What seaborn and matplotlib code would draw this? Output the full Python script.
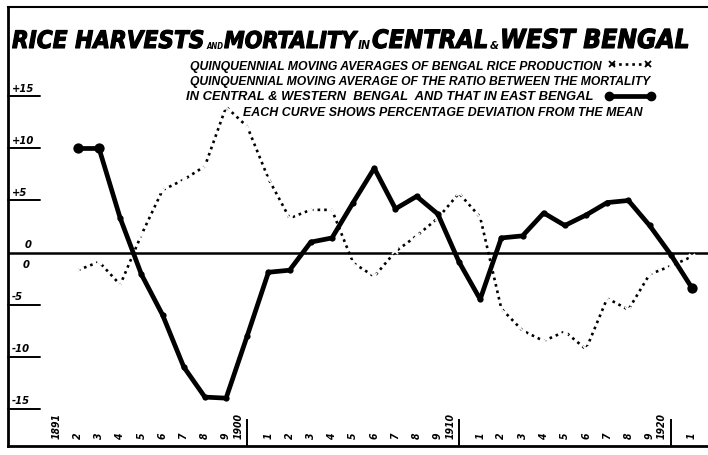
import numpy as np
import pandas as pd
import matplotlib
matplotlib.use("Agg")
import matplotlib.pyplot as plt
import matplotlib.transforms as mtransforms
import matplotlib.patheffects as pe
from matplotlib import font_manager as fm
import seaborn as sns

# ---------------- data ----------------
years = list(range(1892, 1922))
rice_production = [-1.7, -0.9, -3.1, 1.7, 6.0, 7.0, 8.3, 14.0, 12.1, 7.1,
                   3.3, 4.1, 4.1, -1.0, -2.3, 0.1, 1.6, 3.3, 5.7, 3.4,
                   -5.4, -7.5, -8.5, -7.6, -9.3, -4.4, -5.5, -2.1, -1.3, -0.4]
mortality_ratio = [10.0, 10.0, 3.3, -2.1, -6.0, -11.0, -13.9, -14.0, -8.0, -1.9,
                   -1.7, 1.0, 1.4, 4.8, 8.1, 4.2, 5.4, 3.7, -0.9, -4.5,
                   1.4, 1.6, 3.8, 2.6, 3.6, 4.8, 5.0, 2.6, -0.2, -3.4]
tick_years = list(range(1891, 1922))
tick_labels = ["1891", "2", "3", "4", "5", "6", "7", "8", "9", "1900",
               "1", "2", "3", "4", "5", "6", "7", "8", "9", "1910",
               "1", "2", "3", "4", "5", "6", "7", "8", "9", "1920", "1"]
decade_years = [1900, 1910, 1920]
ytick_values = [15, 10, 5, 0, -5, -10, -15]
ytick_labels = ["+15", "+10", "+5", "0", "-5", "-10", "-15"]

title_parts = [("RICE HARVESTS", "big"), ("AND", "small"), ("MORTALITY", "big"),
               ("IN", "small"), ("CENTRAL", "big"), ("&", "small"),
               ("WEST BENGAL", "big")]
legend_lines = ["QUINQUENNIAL MOVING AVERAGES OF BENGAL RICE PRODUCTION",
                "QUINQUENNIAL MOVING AVERAGE OF THE RATIO BETWEEN THE MORTALITY",
                "IN CENTRAL & WESTERN  BENGAL  AND THAT IN EAST BENGAL",
                "EACH CURVE SHOWS PERCENTAGE DEVIATION FROM THE MEAN"]

# ---------------- style ----------------
sns.set_style("white")
names = {f.name for f in fm.fontManager.ttflist}
if "Liberation Sans Narrow" in names:
    FONT = ["Liberation Sans Narrow", "DejaVu Sans"]
    STRETCH = "normal"
else:
    FONT = ["DejaVu Sans"]
    STRETCH = "condensed"
plt.rcParams["font.family"] = FONT
LEG_FONT = ["Liberation Sans", "DejaVu Sans"]

W, H = 708, 456
fig = plt.figure(figsize=(W / 100, H / 100), dpi=100)
ax = fig.add_axes([8 / W, 9 / H, 1 - 8 / W, (447 - 8) / H])

df = pd.DataFrame({"year": years, "rice": rice_production, "mort": mortality_ratio})

# zero line
ax.axhline(0, color="black", lw=1.8, zorder=1)

sns.lineplot(data=df, x="year", y="rice", ax=ax, color="black", lw=1.9,
             linestyle=(0, (1, 1.5)), marker="x", markersize=4.5,
             markeredgewidth=1.3, zorder=3)
sns.lineplot(data=df, x="year", y="mort", ax=ax, color="black", lw=3.4,
             marker="o", markersize=4.5, markeredgewidth=0, zorder=4)
ends = df.iloc[[0, 1, len(df) - 1]]
sns.scatterplot(data=ends, x="year", y="mort", ax=ax, color="black", s=55,
                linewidth=0, zorder=5)

ax.set_xlim(1888.7, 1921.76)
ax.set_ylim(-18.6, 23.6)
ax.set_xlabel("")
ax.set_ylabel("")

for side in ["left", "bottom"]:
    ax.spines[side].set_linewidth(2.0)
    ax.spines[side].set_color("black")
ax.spines["top"].set_linewidth(1.5)
ax.spines["top"].set_color("black")
ax.spines["right"].set_visible(False)

# ticks
ax.set_xticks(tick_years)
ax.set_yticks(ytick_values)
ax.set_yticks(np.arange(-18, 17, 1), minor=True)
ax.tick_params(axis="x", direction="in", length=4, width=1.2, color="black",
               labelbottom=False)
ax.tick_params(axis="y", which="both", direction="in", length=5, width=1.2,
               color="black", labelleft=False)

trans_xa = mtransforms.blended_transform_factory(ax.transData, ax.transAxes)
trans_ay = mtransforms.blended_transform_factory(ax.transAxes, ax.transData)

lab_font = dict(fontweight="bold", fontstyle="italic", fontstretch=STRETCH,
                color="black")
for yr, lab in zip(tick_years, tick_labels):
    off = -0.42 if yr in decade_years else 0.0
    ax.text(yr + off, 0.018, lab, transform=trans_xa, rotation=90,
            ha="center", va="bottom", fontsize=7.5, **lab_font)
ax.vlines(decade_years, 0, 0.062, transform=trans_xa, color="black", lw=1.4)

# y labels with underlines
for v, lab in zip(ytick_values, ytick_labels):
    if v == 0:
        continue
    ax.plot([0, 0.045], [v, v], transform=trans_ay, color="black", lw=1.4,
            clip_on=False)
    ax.text(0.006, v + 0.35, lab, transform=trans_ay, ha="left", va="bottom",
            fontsize=8.0, **lab_font)
ax.text(0.024, 0.35, "0", transform=trans_ay, ha="left", va="bottom",
        fontsize=8.0, **lab_font)
ax.text(0.021, -0.6, "0", transform=trans_ay, ha="left", va="top",
        fontsize=8.0, **lab_font)

# ---------------- fitted texts ----------------
renderer = fig.canvas.get_renderer()


def px(x, y):
    return x / W, 1 - y / H


def fit_text(s, x0, x1, ybase, max_fs, family=None, stretch=STRETCH, stroke=0):
    kw = {}
    if family is not None:
        kw["family"] = family
    t = fig.text(*px(x0, ybase), s, ha="left", va="baseline", fontsize=20,
                 fontweight="bold", fontstyle="italic", fontstretch=stretch,
                 color="black", **kw)
    w = t.get_window_extent(renderer).width
    fs = min(max_fs, 20 * (x1 - x0 - stroke) / w)
    t.set_fontsize(fs)
    if stroke:
        t.set_path_effects([pe.withStroke(linewidth=stroke, foreground="black")])
    return t


title_boxes = [(12, 205, 30), (206, 223, 9), (224, 357, 30), (358, 371, 9),
               (372, 489, 30), (490, 499, 12), (500, 690, 30)]
for (s, kind), (x0, x1, fsmax) in zip(title_parts, title_boxes):
    fit_text(s, x0, x1, 49, fsmax, stroke=(0.8 if kind == "big" else 0))

legend_boxes = [(190, 603, 70), (190, 650, 85), (186, 592, 100), (243, 640, 116)]
for s, (x0, x1, yb) in zip(legend_lines, legend_boxes):
    fit_text(s, x0, x1, yb, 9.5, family=LEG_FONT, stretch="normal")

# legend samples
fig.add_artist(plt.Line2D([612 / W, 648 / W], [1 - 65 / H, 1 - 65 / H],
                          color="black", lw=1.9, linestyle=(0, (1, 1.5))))
fig.add_artist(plt.Line2D([612 / W, 648 / W], [1 - 65 / H, 1 - 65 / H],
                          color="black", lw=0, marker="x", markersize=4.5,
                          markeredgewidth=1.3))
fig.add_artist(plt.Line2D([609 / W, 651 / W], [1 - 97 / H, 1 - 97 / H],
                          color="black", lw=3.4, marker="o", markersize=7,
                          markeredgewidth=0))

fig.savefig("out.png", dpi=100)
